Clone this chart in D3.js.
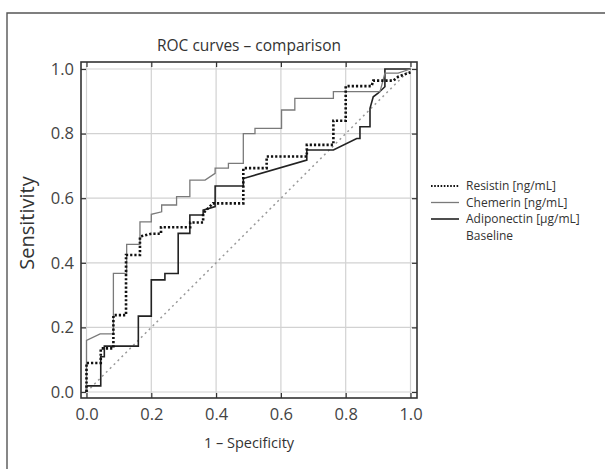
<!DOCTYPE html>
<head>
    <meta charset="utf-8">
    <style>
        body{ margin:0; background:white; }
        svg{ background-color:white; font-family:"Open Sans", sans-serif; }
        .axis path{ display:none; }
        .axis line{ stroke:#333; stroke-width:1.2; }
        .grid{ stroke:#d2d2d2; stroke-width:1.2; }
    </style>
</head>
<body>
<script src="https://d3js.org/d3.v7.min.js"></script>
<script>

const width = 605;
const height = 469;

// chart values
const tickValues = [0, 0.2, 0.4, 0.6, 0.8, 1.0];
const seriesNames = ['Resistin [ng/mL]', 'Chemerin [ng/mL]', 'Adiponectin [\u00b5g/mL]', 'Baseline'];

const resistinFpr = [0, 0, 0.044, 0.044, 0.083, 0.083, 0.122, 0.122, 0.165, 0.165, 0.2, 0.23, 0.23, 0.32, 0.32, 0.36, 0.36, 0.39, 0.484, 0.484, 0.556, 0.556, 0.68, 0.68, 0.762, 0.762, 0.8, 0.8, 0.88, 0.885, 0.947, 0.962, 1];
const resistinTpr = [0, 0.09, 0.09, 0.135, 0.135, 0.238, 0.238, 0.424, 0.424, 0.481, 0.49, 0.49, 0.51, 0.51, 0.525, 0.525, 0.553, 0.584, 0.584, 0.693, 0.693, 0.729, 0.729, 0.765, 0.765, 0.84, 0.84, 0.947, 0.947, 0.964, 0.964, 0.976, 0.99];

const chemerinFpr = [0, 0, 0.042, 0.083, 0.083, 0.124, 0.124, 0.165, 0.165, 0.2, 0.2, 0.232, 0.232, 0.278, 0.278, 0.319, 0.319, 0.366, 0.397, 0.397, 0.438, 0.438, 0.484, 0.484, 0.52, 0.52, 0.602, 0.602, 0.643, 0.643, 0.762, 0.762, 0.906, 0.921, 0.962, 1];
const chemerinTpr = [0, 0.16, 0.18, 0.18, 0.367, 0.367, 0.457, 0.457, 0.527, 0.527, 0.55, 0.558, 0.579, 0.579, 0.605, 0.605, 0.656, 0.656, 0.677, 0.693, 0.693, 0.708, 0.708, 0.80, 0.80, 0.816, 0.816, 0.873, 0.873, 0.909, 0.909, 0.93, 0.93, 0.987, 0.987, 1];

const adipoFpr = [0, 0, 0.044, 0.044, 0.055, 0.055, 0.16, 0.16, 0.2, 0.2, 0.242, 0.242, 0.283, 0.283, 0.319, 0.319, 0.36, 0.36, 0.397, 0.397, 0.484, 0.484, 0.68, 0.68, 0.762, 0.834, 0.844, 0.844, 0.875, 0.875, 0.885, 0.9, 0.921, 0.921, 1];
const adipoTpr = [0, 0.019, 0.019, 0.109, 0.109, 0.142, 0.142, 0.235, 0.235, 0.347, 0.347, 0.367, 0.367, 0.491, 0.491, 0.548, 0.548, 0.563, 0.574, 0.638, 0.638, 0.661, 0.718, 0.749, 0.749, 0.785, 0.785, 0.821, 0.821, 0.878, 0.914, 0.925, 0.945, 1, 1];

const baselineFpr = [0, 1];
const baselineTpr = [0, 1];

const svg = d3.select('body').append('svg')
    .attr('width', width)
    .attr('height', height);

// outer border (runs off the right and bottom)
svg.append('path')
    .attr('d', `M7,${height + 5} V13 H${width + 5}`)
    .style('fill', 'none')
    .style('stroke', '#555')
    .style('stroke-width', 1.4);

const x = d3.scaleLinear().domain([0, 1]).range([86.5, 410.5]);
const y = d3.scaleLinear().domain([0, 1]).range([392, 69]);

const frame = {left: 81, right: 417, top: 62, bottom: 398};

// grid
tickValues.forEach((t) => {
    svg.append('line').attr('class', 'grid')
        .attr('x1', x(t)).attr('x2', x(t))
        .attr('y1', frame.top).attr('y2', frame.bottom);
    svg.append('line').attr('class', 'grid')
        .attr('x1', frame.left).attr('x2', frame.right)
        .attr('y1', y(t)).attr('y2', y(t));
});

// axes with inward ticks
const fmt = d3.format('.1f');
const styleTicks = (g) => g.selectAll('text')
    .style('font-size', '16.5px')
    .style('font-family', '"Open Sans", sans-serif')
    .style('fill', '#444');

svg.append('g').attr('class', 'axis')
    .attr('transform', `translate(0,${frame.bottom})`)
    .call(d3.axisBottom(x).tickValues(tickValues).tickSize(-5).tickPadding(10).tickFormat(fmt))
    .call(styleTicks);
svg.append('g').attr('class', 'axis')
    .attr('transform', `translate(${frame.left},0)`)
    .call(d3.axisLeft(y).tickValues(tickValues).tickSize(-5).tickPadding(7).tickFormat(fmt))
    .call(styleTicks);
svg.append('g').attr('class', 'axis')
    .attr('transform', `translate(0,${frame.top})`)
    .call(d3.axisTop(x).tickValues(tickValues).tickSize(-5).tickFormat(''));
svg.append('g').attr('class', 'axis')
    .attr('transform', `translate(${frame.right},0)`)
    .call(d3.axisRight(y).tickValues(tickValues).tickSize(-5).tickFormat(''));

const line = d3.line().x(d => x(d[0])).y(d => y(d[1]));
const zip = (a, b) => a.map((v, i) => [v, b[i]]);

const styles = [
    {data: zip(resistinFpr, resistinTpr), stroke: '#111', width: 2.6, dash: '2.2,2'},
    {data: zip(chemerinFpr, chemerinTpr), stroke: '#7a7a7a', width: 1.3, dash: null},
    {data: zip(adipoFpr, adipoTpr), stroke: '#222', width: 1.6, dash: null},
    {data: zip(baselineFpr, baselineTpr), stroke: '#999', width: 1.5, dash: '2,3.5'}
];

// baseline first, then the curves
[3, 2, 1, 0].forEach((i) => {
    const s = styles[i];
    svg.append('path')
        .attr('d', line(s.data))
        .style('fill', 'none')
        .style('stroke', s.stroke)
        .style('stroke-width', s.width)
        .style('stroke-dasharray', s.dash);
});

// frame
svg.append('rect')
    .attr('x', frame.left).attr('y', frame.top)
    .attr('width', frame.right - frame.left).attr('height', frame.bottom - frame.top)
    .style('fill', 'none')
    .style('stroke', '#333')
    .style('stroke-width', 1.6);

// titles
svg.append('text')
    .attr('x', 249).attr('y', 51)
    .attr('text-anchor', 'middle')
    .style('font-size', '15.5px').style('fill', '#333')
    .text('ROC curves \u2013 comparison');

svg.append('text')
    .attr('x', 249).attr('y', 448)
    .attr('text-anchor', 'middle')
    .style('font-size', '14.5px').style('fill', '#333')
    .text('1 \u2013 Specificity');

svg.append('text')
    .attr('transform', 'translate(34,223) rotate(-90)')
    .attr('text-anchor', 'middle')
    .style('font-size', '20px').style('fill', '#333')
    .text('Sensitivity');

// legend
const legend = svg.append('g').attr('transform', 'translate(431,186)');
seriesNames.forEach((name, i) => {
    const row = legend.append('g').attr('transform', `translate(0,${i * 16.5})`);
    if (i < 3) {
        const s = styles[i];
        row.append('line')
            .attr('x1', 0).attr('x2', 28).attr('y1', 0).attr('y2', 0)
            .style('stroke', s.stroke)
            .style('stroke-width', i === 0 ? 2 : s.width)
            .style('stroke-dasharray', i === 0 ? '1.6,1.6' : null);
    }
    row.append('text')
        .attr('x', 35).attr('y', 4.3)
        .style('font-size', '12px').style('fill', '#333')
        .text(name);
});

</script>
</body>
</html>
